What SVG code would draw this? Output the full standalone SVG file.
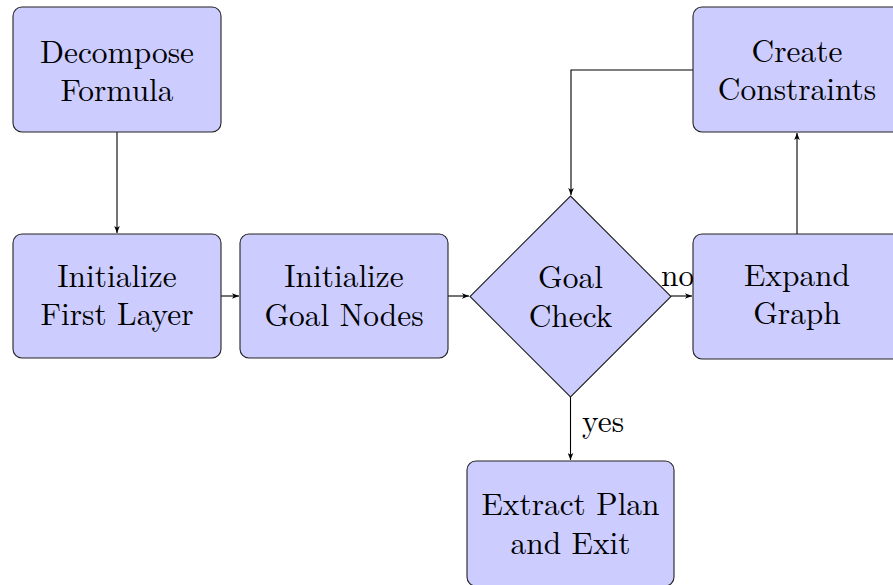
<svg xmlns="http://www.w3.org/2000/svg" width="893" height="585" viewBox="0 0 893 585">
  <defs>
    <marker id="arr" viewBox="0 0 10 8" refX="10" refY="4" markerWidth="7" markerHeight="6" orient="auto" markerUnits="userSpaceOnUse">
      <path d="M0,0 L10,4 L0,8 L2.5,4 Z" fill="#000"/>
    </marker>
  </defs>
  <style>
    .box { fill: #ccccff; stroke: #222; stroke-width: 1.1; }
    .lbl { fill: #000; text-anchor: middle; }
    .edge-lbl { fill: #000; }
    .edge { fill: none; stroke: #000; stroke-width: 1.1; marker-end: url(#arr); }
  </style>

  <rect width="893" height="585" fill="#fff"/>

  <g font-family="'Latin Modern Roman', 'Liberation Serif', serif" font-size="31.4">
    <g id="connectors">
      <path class="edge" d="M117,132 V233"/>
      <path class="edge" d="M221,296 H239"/>
      <path class="edge" d="M448,296 H469"/>
      <path class="edge" d="M671,296 H692"/>
      <path class="edge" d="M797,234 V133"/>
      <path class="edge" d="M693,70 H571 V195"/>
      <path class="edge" d="M570.5,397 V460"/>
      <text class="edge-lbl" x="661" y="286">no</text>
      <text class="edge-lbl" x="582" y="432">yes</text>
    </g>

    <g id="decompose">
      <rect class="box" x="13" y="7" width="208" height="125" rx="9"/>
      <text class="lbl" x="117" y="63">Decompose</text>
      <text class="lbl" x="117" y="101">Formula</text>
    </g>

    <g id="init-first">
      <rect class="box" x="13" y="234" width="208" height="124" rx="9"/>
      <text class="lbl" x="117" y="287">Initialize</text>
      <text class="lbl" x="117" y="325">First Layer</text>
    </g>

    <g id="init-goal">
      <rect class="box" x="240" y="234" width="208" height="124" rx="9"/>
      <text class="lbl" x="344" y="287">Initialize</text>
      <text class="lbl" x="344" y="326">Goal Nodes</text>
    </g>

    <g id="goal-check">
      <polygon class="box" points="570.5,196 671,296.5 570.5,397 470,296.5"/>
      <text class="lbl" x="570.5" y="288">Goal</text>
      <text class="lbl" x="570.5" y="327">Check</text>
    </g>

    <g id="expand">
      <rect class="box" x="693" y="234" width="208" height="125" rx="9"/>
      <text class="lbl" x="797" y="286">Expand</text>
      <text class="lbl" x="797" y="324">Graph</text>
    </g>

    <g id="constraints">
      <rect class="box" x="693" y="7" width="208" height="125" rx="9"/>
      <text class="lbl" x="797" y="62">Create</text>
      <text class="lbl" x="797" y="100">Constraints</text>
    </g>

    <g id="extract">
      <rect class="box" x="467" y="461" width="207" height="125" rx="9"/>
      <text class="lbl" x="570.5" y="515">Extract Plan</text>
      <text class="lbl" x="570.5" y="554">and Exit</text>
    </g>
  </g>
</svg>
